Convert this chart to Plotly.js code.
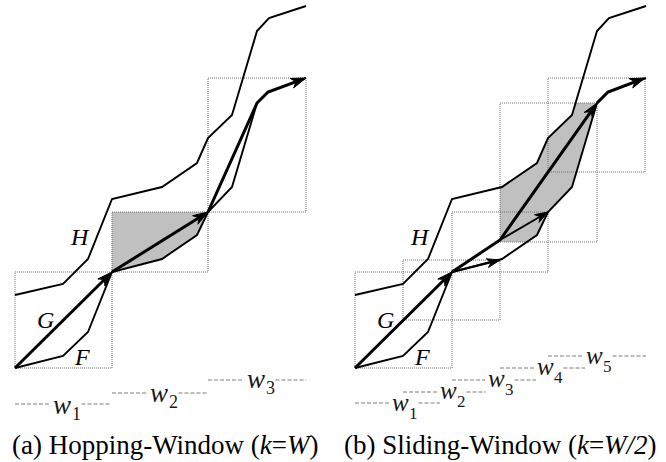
<!DOCTYPE html>
<html><head><meta charset="utf-8">
<script src="https://cdn.plot.ly/plotly-3.0.1.min.js"></script>
<style>html,body{margin:0;padding:0;background:#fff}</style>
</head><body><div id="chart" style="width:666px;height:462px"></div>
<script>
// ---- data (diagram space, 1 unit = 1 px, y downward) ----
const panelShift = [0, 340];
const hX = [15, 63, 88, 112, 162, 197, 208, 232, 257, 269, 306];
const hY = [295, 284, 259, 199, 187, 163, 138, 115, 31, 18, 6];
const fX = [15, 63, 88, 112, 162, 197, 208, 232, 257, 268, 306];
const fY = [368, 356, 332, 272, 259, 235, 212, 187, 103, 92, 78];

const winAx0 = [15, 112, 208], winAx1 = [112, 208, 306];
const winAy0 = [272, 212, 78], winAy1 = [368, 272, 212];
const winBx0 = [355, 403, 452, 500, 548], winBx1 = [452, 500, 548, 597, 645];
const winBy0 = [272, 260, 212, 103, 78], winBy1 = [368, 320, 272, 242, 172];

const shadeAX = [112, 208, 197, 162, 112];
const shadeAY = [212, 212, 235, 259, 272];
const shadeBX = [500, 500, 537, 548, 572, 576, 597, 572, 548, 537, 527];
const shadeBY = [242, 187, 163, 138, 115, 103, 103, 187, 212, 235, 242];

// thick G paths (last segment ends in arrowhead)
const gPathsX = [[15, 112], [112, 208], [208, 257, 268, 306],
                 [355, 452], [452, 500, 597], [597, 608, 645]];
const gPathsY = [[368, 272], [272, 212], [212, 103, 92, 78],
                 [368, 272], [272, 240, 103], [103, 92, 78]];
// thin arrows
const thinArrX = [[452, 500], [500, 548]];
const thinArrY = [[272, 260], [240, 212]];

// window labels w_i
const wSubA = ['1', '2', '3'];
const wLineAx0 = [15, 112, 208], wLineAx1 = [110, 208, 306], wLineAy = [404, 393, 380];
const wGlyphAx = [62, 159, 256], wGlyphAy = [408, 396, 382];
const wSubB = ['1', '2', '3', '4', '5'];
const wLineBx0 = [355, 403, 452, 500, 548], wLineBx1 = [440, 486, 536, 585, 646];
const wLineBy = [403, 392, 380, 368, 356];
const wGlyphBx = [400, 448, 496, 545, 594], wGlyphBy = [405, 393, 381, 369, 358];

const curveLabels = ['H', 'G', 'F'];
const curveLabelX = [80, 45, 82];
const curveLabelY = [237, 320, 357];

const captions = ['(a) Hopping-Window (<i>k</i>=<i>W</i>)', '(b) Sliding-Window (<i>k</i>=<i>W/2</i>)'];
const captionX = [165, 500];
const captionY = [445, 445];

// ---- build ----
const traces = [];
const SERIF = 'Liberation Serif, Times New Roman, serif';

function box(x0, x1, y0, y1) {
  traces.push({x: [x0, x1, x1, x0, x0], y: [y0, y0, y1, y1, y0], mode: 'lines',
    line: {color: '#6e6e6e', width: 1, dash: '1px,1px'}, hoverinfo: 'skip'});
}
function shade(xs, ys) {
  traces.push({x: xs.concat([xs[0]]), y: ys.concat([ys[0]]), mode: 'lines', fill: 'toself',
    fillcolor: '#c0c0c0', line: {width: 0, color: 'rgba(0,0,0,0)'}, hoverinfo: 'skip'});
}
function line(xs, ys, w) {
  traces.push({x: xs, y: ys, mode: 'lines', line: {color: '#000', width: w, shape: 'linear'},
    hoverinfo: 'skip'});
}
function dashed(x0, x1, y) {
  traces.push({x: [x0, x1], y: [y, y], mode: 'lines',
    line: {color: '#7a7a7a', width: 1, dash: '4px,2px'}, hoverinfo: 'skip'});
}
function head(x0, y0, x1, y1, len, wid) {
  const dx = x1 - x0, dy = y1 - y0, L = Math.hypot(dx, dy);
  const ux = dx / L, uy = dy / L, px = -uy, py = ux;
  const bx = x1 - ux * len, by = y1 - uy * len;
  const nx = x1 - ux * len * 0.7, ny = y1 - uy * len * 0.7;
  traces.push({x: [x1, bx + px * wid / 2, nx, bx - px * wid / 2, x1],
    y: [y1, by + py * wid / 2, ny, by - py * wid / 2, y1], mode: 'lines', fill: 'toself',
    fillcolor: '#000', line: {color: '#000', width: 1}, hoverinfo: 'skip'});
}

shade(shadeAX, shadeAY);
shade(shadeBX, shadeBY);
winAx0.forEach((v, i) => box(winAx0[i], winAx1[i], winAy0[i], winAy1[i]));
winBx0.forEach((v, i) => box(winBx0[i], winBx1[i], winBy0[i], winBy1[i]));
panelShift.forEach(s => {
  line(hX.map(v => v + s), hY, 1.9);
  line(fX.map(v => v + s), fY, 1.9);
});
gPathsX.forEach((xs, i) => {
  const ys = gPathsY[i];
  const n = xs.length;
  const dx = xs[n - 1] - xs[n - 2], dy = ys[n - 1] - ys[n - 2], L = Math.hypot(dx, dy);
  const xx = xs.slice(), yy = ys.slice();
  xx[n - 1] = xs[n - 1] - dx / L * 6; yy[n - 1] = ys[n - 1] - dy / L * 6;
  line(xx, yy, 3);
  head(xs[n - 2], ys[n - 2], xs[n - 1], ys[n - 1], 15, 10);
});
thinArrX.forEach((xs, i) => {
  const ys = thinArrY[i];
  line(xs, ys, 1.9);
  head(xs[0], ys[0], xs[1], ys[1], 13, 9);
});

const ann = [];
const wStyle = [{size: 27, half: 11, sdx: 14.5, sdy: 6, ssize: 18},
                {size: 25, half: 10, sdx: 13.5, sdy: 8, ssize: 17}];
function wLabel(st, gx, gy, sub, x0, x1, ly) {
  dashed(x0, gx - st.half - 1, ly);
  dashed(gx + st.sdx + 5, x1, ly);
  ann.push({x: gx, y: gy - 0.107 * st.size, xref: 'x', yref: 'y', showarrow: false, borderpad: 0,
    text: '<i>w</i>', font: {family: SERIF, size: st.size, color: '#1a1a1a'}});
  ann.push({x: gx + st.sdx, y: gy + st.sdy, xref: 'x', yref: 'y', showarrow: false, borderpad: 0,
    text: sub, font: {family: SERIF, size: st.ssize, color: '#1a1a1a'}});
}
wSubA.forEach((s, i) => wLabel(wStyle[0], wGlyphAx[i], wGlyphAy[i], s, wLineAx0[i], wLineAx1[i], wLineAy[i]));
wSubB.forEach((s, i) => wLabel(wStyle[1], wGlyphBx[i], wGlyphBy[i], s, wLineBx0[i], wLineBx1[i], wLineBy[i]));

panelShift.forEach(s => curveLabels.forEach((t, i) => ann.push({
  x: curveLabelX[i] + s, y: curveLabelY[i], xref: 'x', yref: 'y', showarrow: false,
  text: '<i>' + t + '</i>', font: {family: SERIF, size: 24, color: '#000'}})));
captions.forEach((t, i) => ann.push({x: captionX[i], y: captionY[i], xref: 'x', yref: 'y',
  showarrow: false, text: t, font: {family: SERIF, size: 27, color: '#000'}}));

const ax = {showgrid: false, zeroline: false, showticklabels: false, ticks: '', showline: false, fixedrange: true};
const layout = {
  width: 666, height: 462, margin: {l: 0, r: 0, t: 0, b: 0},
  paper_bgcolor: '#fff', plot_bgcolor: '#fff', showlegend: false,
  xaxis: Object.assign({range: [0, 666]}, ax),
  yaxis: Object.assign({range: [462, 0]}, ax),
  annotations: ann
};
Plotly.newPlot('chart', traces, layout, {staticPlot: true, displayModeBar: false});
</script></body></html>
